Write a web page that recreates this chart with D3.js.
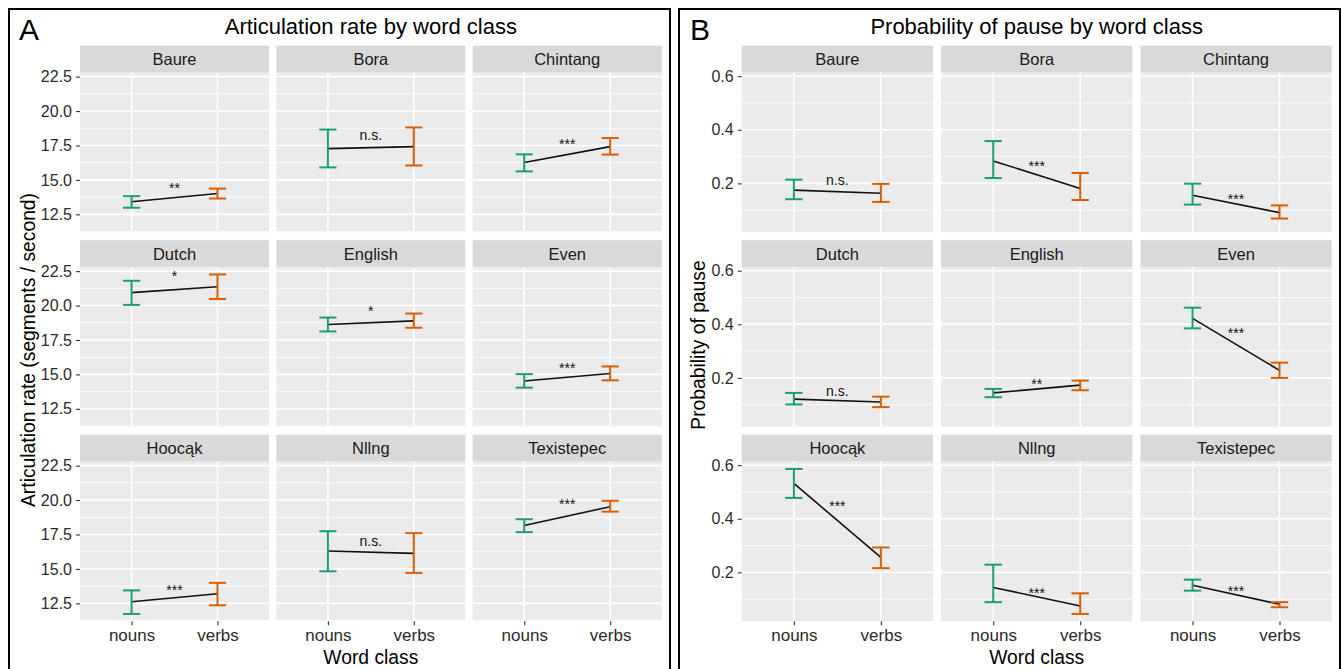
<!DOCTYPE html>
<html>
<head>
<meta charset="utf-8">
<script src="https://cdn.jsdelivr.net/npm/d3@7"></script>
<style>
  html, body { margin: 0; padding: 0; background: #fff; }
  svg { display: block; font-family: "Liberation Sans", Arial, sans-serif; }
</style>
</head>
<body>
<svg id="chart" width="1342" height="669"></svg>
<script>
// ---------------- DATA ----------------
const languages = ["Baure", "Bora", "Chintang", "Dutch", "English", "Even", "Hoocąk", "Nllng", "Texistepec"];
const wordClasses = ["nouns", "verbs"];

// Articulation rate (segments / second): [lower, mean, upper]
const rateNouns = [
  [12.98, 13.41, 13.82], [15.91, 17.27, 18.66], [15.62, 16.26, 16.86],
  [20.05, 20.94, 21.80], [18.12, 18.63, 19.13], [14.04, 14.52, 15.02],
  [11.73, 12.62, 13.44], [14.83, 16.30, 17.74], [17.67, 18.15, 18.61]
];
const rateVerbs = [
  [13.65, 14.01, 14.37], [16.05, 17.42, 18.81], [16.84, 17.42, 18.04],
  [20.48, 21.37, 22.26], [18.39, 18.89, 19.42], [14.57, 15.07, 15.58],
  [12.36, 13.20, 13.99], [14.71, 16.13, 17.60], [19.16, 19.52, 19.95]
];
const rateSig = ["**", "n.s.", "***", "*", "*", "***", "***", "n.s.", "***"];
const rateSigY = [14.65, 18.14, 17.90, 22.45, 19.88, 15.75, 13.77, 16.90, 19.97];
const rateTicks = [12.5, 15.0, 17.5, 20.0, 22.5];

// Probability of pause: [lower, mean, upper]
const pauseNouns = [
  [0.141, 0.175, 0.214], [0.220, 0.284, 0.358], [0.121, 0.156, 0.199],
  [0.101, 0.121, 0.144], [0.128, 0.144, 0.159], [0.385, 0.422, 0.462],
  [0.478, 0.532, 0.586], [0.089, 0.144, 0.229], [0.132, 0.152, 0.173]
];
const pauseVerbs = [
  [0.131, 0.163, 0.198], [0.138, 0.181, 0.239], [0.069, 0.091, 0.118],
  [0.091, 0.110, 0.130], [0.154, 0.173, 0.190], [0.200, 0.228, 0.257],
  [0.216, 0.256, 0.293], [0.045, 0.075, 0.122], [0.070, 0.081, 0.089]
];
const pauseSig = ["n.s.", "***", "***", "n.s.", "**", "***", "***", "***", "***"];
const pauseSigY = [0.209, 0.2775, 0.156, 0.146, 0.191, 0.383, 0.462, 0.137, 0.144];
const pauseTicks = [0.2, 0.4, 0.6];

// ---------------- STYLE ----------------
const classColor = d3.scaleOrdinal().domain(wordClasses).range(["#1B9E77", "#D95F02"]);
const FONT_TICK = 16, FONT_XTICK = 17, FONT_STRIP = 16.5, FONT_AXTITLE = 19.3, FONT_TITLE = 22, FONT_TAG = 30, FONT_SIG = 14;

const svg = d3.select("#chart");

function drawFigure(cfg) {
  const g = svg.append("g");
  g.append("rect")
    .attr("x", cfg.box[0]).attr("y", cfg.box[1])
    .attr("width", cfg.box[2] - cfg.box[0]).attr("height", cfg.box[3] - cfg.box[1])
    .attr("fill", "none").attr("stroke", "#000").attr("stroke-width", 2);

  g.append("text").attr("x", cfg.tagX).attr("y", 39.5)
    .attr("font-size", FONT_TAG).attr("fill", "#000").text(cfg.tag);
  const midX = cfg.left + (cfg.right - cfg.left) / 2;
  g.append("text").attr("x", midX).attr("y", 33.5).attr("text-anchor", "middle")
    .attr("font-size", FONT_TITLE).attr("fill", "#000").text(cfg.title);

  const gap = cfg.gap;
  const colW = (cfg.right - cfg.left - 2 * gap) / 3;
  const stripH = 27, panelH = 159.5, rowGap = 8, top0 = 45.7;

  const [lo, hi] = d3.extent(cfg.nouns.concat(cfg.verbs).flat());
  const pad = (hi - lo) * 0.05;
  const y = d3.scaleLinear().domain([lo - pad, hi + pad]).range([panelH, 0]);
  const x = d3.scalePoint().domain(wordClasses).range([0, colW]).padding(0.6);
  const capHalf = x.step() * 0.1;

  const minorTicks = [];
  for (let i = 0; i < cfg.ticks.length - 1; i++) minorTicks.push((cfg.ticks[i] + cfg.ticks[i + 1]) / 2);
  const tstep = cfg.ticks[1] - cfg.ticks[0];
  minorTicks.push(cfg.ticks[0] - tstep / 2, cfg.ticks[cfg.ticks.length - 1] + tstep / 2);
  const [d0, d1] = y.domain();
  const minors = minorTicks.filter(v => v >= d0 && v <= d1);

  languages.forEach((lang, i) => {
    const col = i % 3, row = Math.floor(i / 3);
    const px = cfg.left + col * (colW + gap);
    const sy = top0 + row * (stripH + panelH + rowGap);
    const py = sy + stripH;
    const fg = g.append("g");

    fg.append("rect").attr("x", px).attr("y", sy).attr("width", colW).attr("height", stripH).attr("fill", "#D9D9D9");
    fg.append("text").attr("x", px + colW / 2).attr("y", sy + stripH / 2).attr("dy", "0.36em")
      .attr("text-anchor", "middle").attr("font-size", FONT_STRIP).attr("fill", "#1A1A1A").text(lang);

    const pg = fg.append("g").attr("transform", `translate(${px},${py})`);
    pg.append("rect").attr("width", colW).attr("height", panelH).attr("fill", "#EBEBEB");
    pg.selectAll("line.minor").data(minors).join("line")
      .attr("x1", 0).attr("x2", colW).attr("y1", d => y(d)).attr("y2", d => y(d))
      .attr("stroke", "#fff").attr("stroke-width", 0.8);
    pg.selectAll("line.majory").data(cfg.ticks).join("line")
      .attr("x1", 0).attr("x2", colW).attr("y1", d => y(d)).attr("y2", d => y(d))
      .attr("stroke", "#fff").attr("stroke-width", 1.6);
    pg.selectAll("line.majorx").data(wordClasses).join("line")
      .attr("x1", d => x(d)).attr("x2", d => x(d)).attr("y1", 0).attr("y2", panelH)
      .attr("stroke", "#fff").attr("stroke-width", 1.6);

    if (col === 0) {
      const ax = fg.append("g").attr("transform", `translate(${px},${py})`)
        .call(d3.axisLeft(y).tickValues(cfg.ticks).tickFormat(cfg.fmt).tickSize(4).tickPadding(4));
      ax.select(".domain").remove();
      ax.selectAll(".tick line").attr("stroke", "#333").attr("stroke-width", 1.1);
      ax.selectAll(".tick text").attr("font-size", FONT_TICK).attr("fill", "#2b2b2b")
        .attr("font-family", "Liberation Sans, Arial, sans-serif");
    }
    if (row === 2) {
      const ax = fg.append("g").attr("transform", `translate(${px},${py + panelH})`)
        .call(d3.axisBottom(x).tickSize(4).tickPadding(4));
      ax.select(".domain").remove();
      ax.selectAll(".tick line").attr("stroke", "#333").attr("stroke-width", 1.1);
      ax.selectAll(".tick text").attr("font-size", FONT_XTICK).attr("fill", "#2b2b2b")
        .attr("font-family", "Liberation Sans, Arial, sans-serif");
    }

    const pts = [["nouns", cfg.nouns[i][1]], ["verbs", cfg.verbs[i][1]]];
    pg.append("path")
      .attr("d", d3.line().x(d => x(d[0])).y(d => y(d[1]))(pts))
      .attr("stroke", "#111").attr("stroke-width", 1.6).attr("fill", "none");

    const bars = [["nouns", cfg.nouns[i]], ["verbs", cfg.verbs[i]]];
    bars.forEach(([cls, v]) => {
      const c = classColor(cls), cx = x(cls);
      const eg = pg.append("g").attr("stroke", c).attr("stroke-width", 2).attr("fill", "none");
      eg.append("line").attr("x1", cx).attr("x2", cx).attr("y1", y(v[0])).attr("y2", y(v[2]));
      eg.append("line").attr("x1", cx - capHalf).attr("x2", cx + capHalf).attr("y1", y(v[0])).attr("y2", y(v[0]));
      eg.append("line").attr("x1", cx - capHalf).attr("x2", cx + capHalf).attr("y1", y(v[2])).attr("y2", y(v[2]));
    });

    const lbl = cfg.sig[i];
    const shift = lbl === "n.s." ? 0.26 : 0.62;
    pg.append("text")
      .attr("x", (x("nouns") + x("verbs")) / 2).attr("y", y(cfg.sigY[i]) + shift * FONT_SIG)
      .attr("text-anchor", "middle").attr("font-size", FONT_SIG).attr("fill", "#111").text(lbl);
  });

  g.append("text").attr("x", midX).attr("y", 663.5).attr("text-anchor", "middle")
    .attr("font-size", FONT_AXTITLE).attr("fill", "#000").text("Word class");
  g.append("text").attr("transform", `translate(${cfg.yTitleX},${cfg.yTitleY}) rotate(-90)`)
    .attr("dy", "0.36em").attr("text-anchor", "middle")
    .attr("font-size", FONT_AXTITLE).attr("fill", "#000").text(cfg.yTitle);
}

drawFigure({
  box: [9, 9, 670, 680], tag: "A", tagX: 19, title: "Articulation rate by word class",
  left: 80, right: 661.7, gap: 7.3,
  nouns: rateNouns, verbs: rateVerbs, sig: rateSig, sigY: rateSigY,
  ticks: rateTicks, fmt: d3.format(".1f"),
  yTitle: "Articulation rate (segments / second)", yTitleX: 28, yTitleY: 350
});
drawFigure({
  box: [679, 9, 1340, 680], tag: "B", tagX: 690, title: "Probability of pause by word class",
  left: 741.7, right: 1331.7, gap: 8,
  nouns: pauseNouns, verbs: pauseVerbs, sig: pauseSig, sigY: pauseSigY,
  ticks: pauseTicks, fmt: d3.format(".1f"),
  yTitle: "Probability of pause", yTitleX: 698, yTitleY: 345
});
</script>
</body>
</html>
